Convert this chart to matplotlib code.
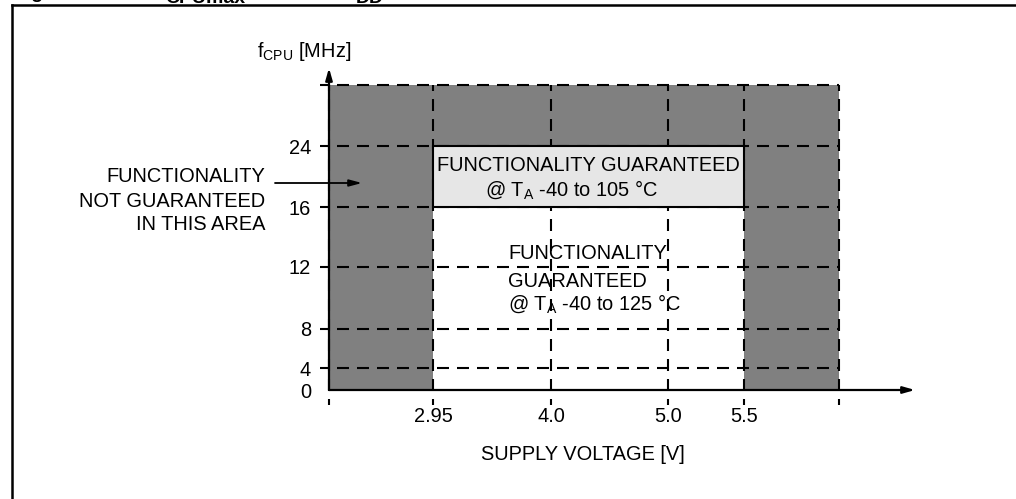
import numpy as np
import matplotlib
matplotlib.use("Agg")
import matplotlib.pyplot as plt
from matplotlib.transforms import Affine2D
from matplotlib.lines import Line2D
from matplotlib.patches import Rectangle

# ---------------- data ----------------
VOLTAGE_TICKS = [2.95, 4.0, 5.0, 5.5]
VOLTAGE_TICK_LABELS = ["2.95", "4.0", "5.0", "5.5"]
FREQ_TICKS = [0, 4, 8, 12, 16, 24]
FREQ_TICK_LABELS = ["0", "4", "8", "12", "16", "24"]
V_MIN_GUAR = 2.95          # lower supply limit of guaranteed area
V_MAX_GUAR = 5.5           # upper supply limit of guaranteed area
F_MAX_125C = 16            # max fCPU guaranteed @ -40..125 °C
F_MAX_105C = 24            # max fCPU guaranteed @ -40..105 °C
V_EDGE_LEFT = 2.0          # unlabeled left edge of drawn area
V_EDGE_RIGHT = 6.5         # unlabeled right edge of drawn area
F_EDGE_TOP = 32            # unlabeled top edge of drawn area
FREQ_GRID = [4, 8, 12, 16, 24, 32]
VOLT_GRID = [2.0, 2.95, 4.0, 5.0, 5.5, 6.5]

# ---------------- layout (schematic, non-linear axes) ----------------
W, H = 1016, 499
LAYOUT_X_V = [2.0, 2.95, 4.0, 5.0, 5.5, 6.5]
LAYOUT_X_PX = [329, 433, 551, 668, 744, 839]
LAYOUT_Y_F = [0, 4, 8, 12, 16, 24, 32]
LAYOUT_Y_PX = [390, 368, 329, 267, 207, 146, 85]
AX_LEFT, AX_RIGHT, AX_TOP, AX_BOTTOM = 329, 915, 68, 390

plt.rcParams["font.family"] = ["Liberation Sans", "DejaVu Sans"]
plt.rcParams["mathtext.fontset"] = "custom"
plt.rcParams["mathtext.rm"] = "Liberation Sans"
plt.rcParams["mathtext.bf"] = "Liberation Sans:bold"
plt.rcParams["mathtext.it"] = "Liberation Sans:italic"
FS = 14.4


def piecewise(xs, ps):
    xs = np.asarray(xs, float)
    ps = np.asarray(ps, float)
    s0 = (ps[1] - ps[0]) / (xs[1] - xs[0])
    s1 = (ps[-1] - ps[-2]) / (xs[-1] - xs[-2])

    def f(v):
        v = np.asarray(v, float)
        out = np.interp(v, xs, ps)
        out = np.where(v < xs[0], ps[0] + (v - xs[0]) * s0, out)
        out = np.where(v > xs[-1], ps[-1] + (v - xs[-1]) * s1, out)
        return out
    return f


x_fwd = piecewise(LAYOUT_X_V, LAYOUT_X_PX)
x_inv = piecewise(LAYOUT_X_PX, LAYOUT_X_V)
y_up = [H - p for p in LAYOUT_Y_PX]
y_fwd = piecewise(LAYOUT_Y_F, y_up)
y_inv = piecewise(y_up, LAYOUT_Y_F)

fig = plt.figure(figsize=(W / 100, H / 100), dpi=100)
px = Affine2D().scale(1 / W, -1 / H).translate(0, 1) + fig.transFigure

ax = fig.add_axes([AX_LEFT / W, (H - AX_BOTTOM) / H,
                   (AX_RIGHT - AX_LEFT) / W, (AX_BOTTOM - AX_TOP) / H])
ax.set_xscale("function", functions=(x_fwd, x_inv))
ax.set_yscale("function", functions=(y_fwd, y_inv))
x_arrow = float(x_inv(AX_RIGHT))
y_arrow = float(y_inv(H - AX_TOP))
ax.set_xlim(V_EDGE_LEFT, x_arrow)
ax.set_ylim(0, y_arrow)
for s in ax.spines.values():
    s.set_visible(False)
ax.patch.set_visible(False)

# regions
ax.fill_between([V_EDGE_LEFT, V_EDGE_RIGHT], 0, F_EDGE_TOP,
                color="#808080", lw=0, zorder=1)
ax.fill_between([V_MIN_GUAR, V_MAX_GUAR], 0, F_MAX_125C,
                color="white", lw=0, zorder=1.5)

# dashed grid
DASH = (5.76, 3.84)
x_start = float(x_inv(x_fwd(V_EDGE_LEFT) - 9))
for f in FREQ_GRID:
    ax.plot([x_start, V_EDGE_RIGHT], [f, f], color="black", lw=1.5,
            ls=(1.44, DASH), clip_on=False, zorder=3, dash_capstyle="butt")
y_bottom = float(y_inv(H - 405))
for v in VOLT_GRID:
    ax.plot([v, v], [y_bottom, F_EDGE_TOP], color="black", lw=1.5,
            ls=(2.88, DASH), clip_on=False, zorder=3, dash_capstyle="butt")

# 105 °C box
ax.add_patch(Rectangle((V_MIN_GUAR, F_MAX_125C), V_MAX_GUAR - V_MIN_GUAR,
                       F_MAX_105C - F_MAX_125C, facecolor="#e6e6e6",
                       edgecolor="black", lw=1.5, zorder=4))

# axes arrows
arrow_kw = dict(arrowstyle="-|>,head_length=0.7,head_width=0.2", lw=1.6,
                color="black", shrinkA=0, shrinkB=0, mutation_scale=10)
ax.annotate("", xy=(V_EDGE_LEFT, y_arrow), xytext=(V_EDGE_LEFT, 0),
            arrowprops=arrow_kw, annotation_clip=False, zorder=6)
ax.annotate("", xy=(x_arrow, 0), xytext=(V_EDGE_LEFT, 0),
            arrowprops=arrow_kw, annotation_clip=False, zorder=6)

# ticks
ax.set_xticks(VOLTAGE_TICKS, VOLTAGE_TICK_LABELS)
ax.set_yticks(FREQ_TICKS, FREQ_TICK_LABELS)
ax.tick_params(axis="x", length=0, pad=12.5, labelsize=FS)
ax.tick_params(axis="y", length=0, pad=13, labelsize=FS)
ax.minorticks_off()


def note(txt, anchor, off, **kw):
    ax.annotate(txt, xy=anchor, xytext=off, textcoords="offset pixels",
                fontsize=FS, va="baseline", annotation_clip=False, **kw)


note("FUNCTIONALITY GUARANTEED", (V_MIN_GUAR, F_MAX_105C), (4, -25), zorder=5)
note(r"@ T$_\mathregular{A}$ -40 to 105 °C", (V_MIN_GUAR, F_MAX_105C), (52, -50), zorder=5)
note("FUNCTIONALITY", (V_MIN_GUAR, F_MAX_125C), (75, -52), zorder=2)
note("GUARANTEED", (V_MIN_GUAR, F_MAX_125C), (75, -80), zorder=2)
note(r"@ T$_\mathregular{A}$ -40 to 125 °C", (V_MIN_GUAR, F_MAX_125C), (75, -103), zorder=2)
note("FUNCTIONALITY", (V_EDGE_LEFT, F_MAX_125C), (-64, 25), ha="right")
note("NOT GUARANTEED", (V_EDGE_LEFT, F_MAX_125C), (-64, 0), ha="right")
note("IN THIS AREA", (V_EDGE_LEFT, F_MAX_125C), (-64, -23), ha="right")
ax.annotate("", xy=(362, 183), xytext=(275, 183), xycoords=px, textcoords=px,
            arrowprops=dict(arrowstyle="-|>,head_length=0.75,head_width=0.2",
                            lw=1.3, color="black", shrinkA=0, shrinkB=0,
                            mutation_scale=10), zorder=6)

# axis titles
fig.text(257, 57, r"f$_\mathregular{CPU}$ [MHz]", transform=px, fontsize=FS,
         va="baseline", ha="left")
fig.text(583, 460, "SUPPLY VOLTAGE [V]", transform=px, fontsize=FS,
         va="baseline", ha="center")

# frame and (partly visible) figure caption
fig.add_artist(Line2D([12, W], [5, 5], transform=px, color="black", lw=1.8))
fig.add_artist(Line2D([12, 12], [5, H], transform=px, color="black", lw=1.8))
fig.text(14, -1.5, "Figure 7.", transform=px, fontsize=14, fontweight="bold",
         va="baseline")
fig.text(158, -1.5, "f", transform=px, fontsize=14, fontweight="bold", va="baseline")
fig.text(165, 3, "CPUmax", transform=px, fontsize=14, fontweight="bold", va="baseline")
fig.text(275, -1.5, "versus V", transform=px, fontsize=14, fontweight="bold", va="baseline")
fig.text(356, 3, "DD", transform=px, fontsize=14, fontweight="bold", va="baseline")

fig.savefig("out.png", dpi=100)
